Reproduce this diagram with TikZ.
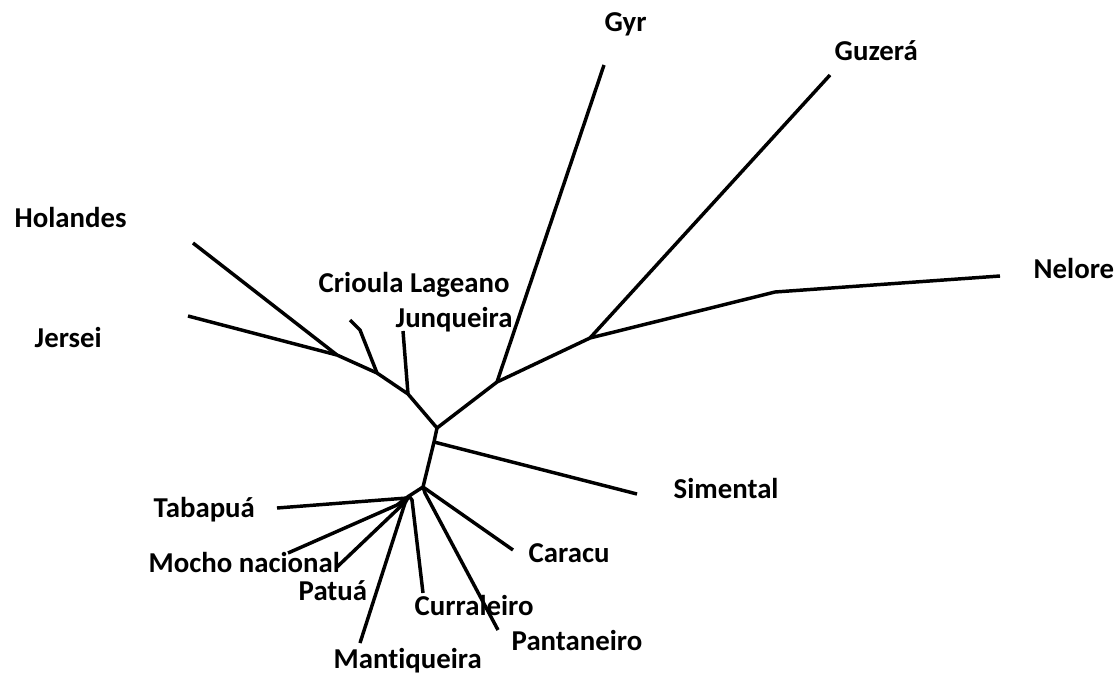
\documentclass[tikz,border=0pt]{standalone}
\usepackage{fontspec}
\setmainfont{Carlito}[Ligatures=NoCommon]
\usetikzlibrary{positioning}
\tikzset{branch/.style={line width=2.6pt, black, line join=round},
         breed/.style={font=\bfseries\fontsize{21.6}{26}\selectfont, anchor=base west, inner sep=0pt, text=black}}

\begin{document}
\begin{tikzpicture}[x=0.75pt, y=-0.75pt, branch]
\useasboundingbox (0,0) rectangle (1120,675);
% inner nodes of the tree
\coordinate (hj) at (337,355);
\coordinate (cl) at (377,373);
\coordinate (bq) at (408,394);
\coordinate (ro) at (437,428);
\coordinate (sm) at (434,442);
\coordinate (ca) at (423,487);
\coordinate (lw) at (409,496);
\coordinate (gy) at (497,382);
\coordinate (nz) at (590,338);
\coordinate (nk) at (775,292);
% leaf ends
\coordinate (lHol) at (193,243);
\coordinate (lJer) at (188,316);
\coordinate (lCri) at (350,320);
\coordinate (lJun) at (403,331);
\coordinate (lGyr) at (604,65);
\coordinate (lGuz) at (830,75);
\coordinate (lNel) at (1000,276);
\coordinate (lSim) at (637,494);
\coordinate (lCar) at (513,550);
\coordinate (lPan) at (498,630);
\coordinate (lCur) at (423,593);
\coordinate (lMan) at (360,643);
\coordinate (lPat) at (337,567);
\coordinate (lMoc) at (288,553);
\coordinate (lTab) at (277,508);
% labels
\node[breed] (Gyr) at (603,31) {Gyr};
\node[breed] (Guz) at (833,60) {Guzerá};
\node[breed] (Hol) at (13,227) {Holandes};
\node[breed] (Jer) at (33,347) {Jersei};
\node[breed] (Cri) at (317,292) {Crioula Lageano};
\node[breed] (Jun) at (394,327) {Junqueira};
\node[breed] (Nel) at (1032,278) {Nelore};
\node[breed] (Sim) at (672,498) {Simental};
\node[breed] (Tab) at (152,517) {Tabapuá};
\node[breed] (Moc) at (147,572) {Mocho nacional};
\node[breed] (Pat) at (297,600) {Patuá};
\node[breed] (Car) at (527,562) {Caracu};
\node[breed] (Cur) at (413,615) {Curraleiro};
\node[breed] (Pan) at (510,650) {Pantaneiro};
\node[breed] (Man) at (332,668) {Mantiqueira};
% branches
\draw (lHol) -- (hj);
\draw (lJer) -- (hj);
\draw (hj) -- (cl) -- (bq) -- (ro);
\draw (lCri) -- ++(10,10) -- (cl);
\draw (lJun) -- (bq);
\draw (ro) -- (gy) -- (nz) -- (nk) -- (lNel);
\draw (gy) -- (lGyr);
\draw (nz) -- (lGuz);
\draw (ro) -- (sm) -- (ca) -- (lw);
\draw (sm) -- (lSim);
\draw (ca) -- (lCar);
\draw (ca) -- ++(2,6) -- (lPan);
\draw (lw) -- ++(3,4) -- (lCur);
\draw (lw) -- ++(-4,7) -- (lMan);
\draw (lw) -- ++(-9,11) -- (lPat);
\draw (lw) -- ++(-12,9) -- (lMoc);
\draw (lw) -- ++(-2,2) -- (lTab);
\end{tikzpicture}
\end{document}
